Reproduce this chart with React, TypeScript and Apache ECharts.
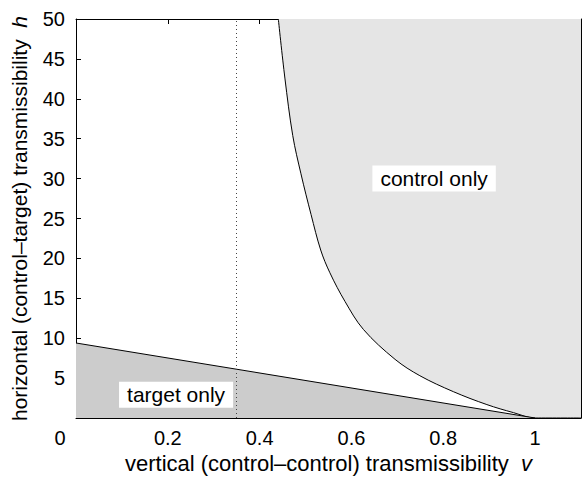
import React, { useEffect, useRef } from "react";
import * as echarts from "echarts";

// boundary of the "control only" region (v, h)
const curveV = [0.4407, 0.455, 0.4721, 0.49, 0.512, 0.533, 0.553, 0.586, 0.626, 0.695, 0.749, 0.822, 0.895, 0.953, 1.0, 1.1];
const curveH = [50, 42.6, 35.4, 30.6, 25.5, 21.05, 18.2, 14.6, 11.1, 7.35, 5.3, 3.3, 1.68, 0.67, 0, 0];

// boundary of the "target only" region
const targetV = [0, 1];
const targetH = [9.4, 0];

// dotted vertical marker
const markerV = 0.347;

// region labels
const labelTexts = ["control only", "target only"];
const labelV = [0.78, 0.218];
const labelH = [30, 2.9];

const FONT = "'Liberation Sans', Arial, Helvetica, sans-serif";

export default function App() {
  const ref = useRef<HTMLDivElement>(null);
  useEffect(() => {
    if (!ref.current) return;
    const chart = echarts.init(ref.current, null, { renderer: "svg" });
    const zip = (a: number[], b: number[]) => a.map((x, i) => [x, b[i]]);
    const axisCommon = {
      axisLine: { show: true, onZero: false, lineStyle: { color: "#000", width: 1 } },
      axisTick: { show: true, inside: true, length: 5, lineStyle: { color: "#000", width: 1 } },
      splitLine: { show: false },
    };
    chart.setOption({
      animation: false,
      backgroundColor: "#fff",
      textStyle: { fontFamily: FONT },
      grid: { left: 76, top: 19, right: 1, bottom: 62, containLabel: false },
      xAxis: [
        {
          type: "value",
          min: 0,
          max: 1.1,
          interval: 0.2,
          position: "bottom",
          ...axisCommon,
          name: "vertical (control–control) transmissibility  {i|v}",
          nameLocation: "middle",
          nameGap: 27,
          nameTextStyle: {
            fontSize: 22,
            color: "#000",
            fontFamily: FONT,
            rich: { i: { fontStyle: "italic", fontSize: 22, color: "#000", fontFamily: FONT } },
          },
          axisLabel: {
            show: true,
            margin: 10,
            fontSize: 20,
            color: "#000",
            fontFamily: FONT,
            showMaxLabel: false,
            formatter: (val: number) => (val === 0 ? "{z|0}" : String(val)),
            rich: { z: { fontSize: 20, color: "#000", fontFamily: FONT, padding: [0, 32, 0, 0] } },
          },
        },
        {
          type: "value",
          min: 0,
          max: 1.1,
          interval: 0.2,
          position: "top",
          ...axisCommon,
          axisLabel: { show: false },
        },
      ],
      yAxis: [
        {
          type: "value",
          min: 0,
          max: 50,
          interval: 5,
          position: "left",
          ...axisCommon,
          name: "horizontal (control–target) transmissibility  {i|h}",
          nameLocation: "middle",
          nameGap: 46,
          nameTextStyle: {
            fontSize: 21,
            color: "#000",
            fontFamily: FONT,
            rich: { i: { fontStyle: "italic", fontSize: 21, color: "#000", fontFamily: FONT } },
          },
          axisLabel: {
            show: true,
            margin: 11,
            fontSize: 20,
            color: "#000",
            fontFamily: FONT,
            showMinLabel: false,
          },
        },
        {
          type: "value",
          min: 0,
          max: 50,
          interval: 5,
          position: "right",
          ...axisCommon,
          axisLabel: { show: false },
        },
      ],
      series: [
        {
          type: "line",
          data: zip(curveV, curveH),
          showSymbol: false,
          symbol: "none",
          smooth: 0.35,
          lineStyle: { color: "#000", width: 1 },
          areaStyle: { color: "#e5e5e5", opacity: 1, origin: "end" },
          silent: true,
          z: 2,
        },
        {
          type: "line",
          data: zip(targetV, targetH),
          showSymbol: false,
          symbol: "none",
          lineStyle: { color: "#000", width: 1 },
          areaStyle: { color: "#cccccc", opacity: 1 },
          silent: true,
          z: 3,
          markLine: {
            silent: true,
            symbol: ["none", "none"],
            label: { show: false },
            lineStyle: { color: "#444", type: [1, 3], width: 1 },
            data: [{ xAxis: markerV }],
            z: 4,
          },
          markPoint: {
            silent: true,
            symbol: "rect",
            symbolSize: 1,
            itemStyle: { color: "rgba(0,0,0,0)" },
            z: 5,
            label: {
              show: true,
              position: "inside",
              fontSize: 21,
              color: "#000",
              fontFamily: FONT,
              backgroundColor: "#fff",
              padding: [3, 8, 2, 8],
              formatter: (p: any) => p.name,
            },
            data: labelTexts.map((t, i) => ({ name: t, coord: [labelV[i], labelH[i]] })),
          },
        },
      ],
    });
    return () => chart.dispose();
  }, []);
  return <div ref={ref} style={{ position: "absolute", left: 0, top: 0, width: 582, height: 480 }} />;
}
